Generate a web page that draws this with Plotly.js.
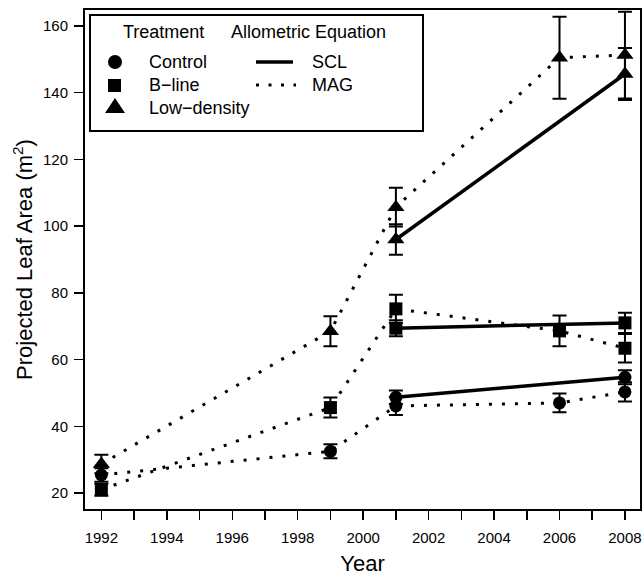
<!DOCTYPE html>
<html>
<head>
<meta charset="utf-8">
<script src="https://cdn.plot.ly/plotly-3.0.1.min.js"></script>
<style>html,body{margin:0;padding:0;background:#fff;}#chart{width:642px;height:576px;}</style>
</head>
<body>
<div id="chart"></div>
<script>
// ---- data ----
const yearsMAG = [1992, 1999, 2001, 2006, 2008];
const controlMAG = [25.4, 32.5, 46.1, 47.0, 50.3];
const controlMAGErr = [2.0, 2.1, 2.7, 2.8, 2.9];
const blineMAG = [21.0, 45.6, 75.2, 68.6, 63.4];
const blineMAGErr = [1.8, 3.0, 4.2, 4.6, 4.3];
const lowMAG = [28.7, 68.5, 105.7, 150.5, 151.3];
const lowMAGErr = [2.8, 4.5, 5.8, 12.3, 13.0];

const yearsSCL = [2001, 2008];
const controlSCL = [48.7, 54.7];
const controlSCLErr = [2.0, 2.1];
const blineSCL = [69.4, 71.0];
const blineSCLErr = [2.4, 3.0];
const lowSCL = [96.0, 145.6];
const lowSCLErr = [4.6, 7.8];

const xTickVals = [1992, 1994, 1996, 1998, 2000, 2002, 2004, 2006, 2008];
const xTickText = ['1992', '1994', '1996', '1998', '2000', '2002', '2004', '2006', '2008'];
const yTickVals = [20, 40, 60, 80, 100, 120, 140, 160];

const treatments = ['Control', 'B\u2212line', 'Low\u2212density'];
const equations = ['SCL', 'MAG'];

// ---- styling ----
const FONT = 'Liberation Sans, Arial, Helvetica, sans-serif';
const W = 642, H = 576;
const M = {l: 85, r: 2, t: 10, b: 67};
const PW = W - M.l - M.r, PH = H - M.t - M.b;
const fx = px => (px - M.l) / PW;
const fy = py => (H - M.b - py) / PH;

const DOT = '3px,10px';
function trace(x, y, err, symbol, size, dash, width) {
  return {
    x: x, y: y, type: 'scatter', mode: 'lines+markers',
    line: {color: 'black', width: width, dash: dash},
    marker: {symbol: symbol, size: size, color: 'black'},
    error_y: {type: 'data', array: err, visible: true, color: 'black', thickness: 2, width: 7},
    showlegend: false, hoverinfo: 'skip', cliponaxis: false
  };
}

const data = [
  trace(yearsMAG, controlMAG, controlMAGErr, 'circle', 13, DOT, 3),
  trace(yearsMAG, blineMAG, blineMAGErr, 'square', 13, DOT, 3),
  trace(yearsMAG, lowMAG, lowMAGErr, 'triangle-up', 15, DOT, 3),
  trace(yearsSCL, controlSCL, controlSCLErr, 'circle', 13, 'solid', 3.5),
  trace(yearsSCL, blineSCL, blineSCLErr, 'square', 13, 'solid', 3.5),
  trace(yearsSCL, lowSCL, lowSCLErr, 'triangle-up', 15, 'solid', 3.5)
];

// ---- hand-made legend (two columns with headers) ----
const shapes = [
  {type: 'rect', xref: 'paper', yref: 'paper', x0: fx(90), x1: fx(423), y0: fy(131), y1: fy(15),
   line: {color: 'black', width: 2}, fillcolor: 'white', layer: 'above'},
  {type: 'circle', xref: 'paper', yref: 'paper', x0: fx(108), x1: fx(122), y0: fy(69), y1: fy(55),
   line: {width: 0}, fillcolor: 'black', layer: 'above'},
  {type: 'rect', xref: 'paper', yref: 'paper', x0: fx(108), x1: fx(121), y0: fy(92), y1: fy(79),
   line: {width: 0}, fillcolor: 'black', layer: 'above'},
  {type: 'path', xref: 'paper', yref: 'paper',
   path: 'M ' + fx(105) + ' ' + fy(113) + ' L ' + fx(125) + ' ' + fy(113) + ' L ' + fx(115) + ' ' + fy(98) + ' Z',
   line: {width: 0}, fillcolor: 'black', layer: 'above'},
  {type: 'line', xref: 'paper', yref: 'paper', x0: fx(256), x1: fx(293), y0: fy(62), y1: fy(62),
   line: {color: 'black', width: 3.5}, layer: 'above'},
  {type: 'line', xref: 'paper', yref: 'paper', x0: fx(256), x1: fx(296), y0: fy(85), y1: fy(85),
   line: {color: 'black', width: 3, dash: '3px,9.5px'}, layer: 'above'}
];

function txt(s, px, py) {
  return {text: s, xref: 'paper', yref: 'paper', x: fx(px), y: fy(py), xanchor: 'left', yanchor: 'middle',
          showarrow: false, font: {family: FONT, size: 18, color: 'black'}};
}
const annotations = [
  txt('Treatment', 121, 32),
  txt('Allometric Equation', 229, 32),
  txt(treatments[0], 147, 62),
  txt(treatments[1], 147, 85),
  txt(treatments[2], 147, 108),
  txt(equations[0], 310, 62),
  txt(equations[1], 310, 85)
];

const layout = {
  width: W, height: H,
  margin: M,
  paper_bgcolor: 'white', plot_bgcolor: 'white',
  font: {family: FONT, color: 'black', size: 15},
  showlegend: false,
  xaxis: {
    range: [1991.5, 2008.46], tickmode: 'array', tickvals: xTickVals, ticktext: xTickText,
    ticks: 'outside', ticklen: 9, tickwidth: 1.5, tickcolor: 'black',
    minor: {tickmode: 'linear', tick0: 1991, dtick: 1, ticks: 'outside', ticklen: 9, tickwidth: 1.5, tickcolor: 'black', showgrid: false},
    showline: true, mirror: true, linewidth: 2, linecolor: 'black',
    showgrid: false, zeroline: false, ticklabelstandoff: 5,
    tickfont: {family: FONT, size: 15, color: 'black'},
    title: {text: 'Year', font: {family: FONT, size: 22, color: 'black'}, standoff: 14}
  },
  yaxis: {
    range: [15.2, 164.8], tickmode: 'array', tickvals: yTickVals,
    ticks: 'outside', ticklen: 9, tickwidth: 1.5, tickcolor: 'black',
    showline: true, mirror: true, linewidth: 2, linecolor: 'black',
    showgrid: false, zeroline: false, ticklabelstandoff: 3,
    tickfont: {family: FONT, size: 15, color: 'black'},
    title: {text: 'Projected Leaf Area (m<sup>2</sup>)', font: {family: FONT, size: 22, color: 'black'}, standoff: 4}
  },
  shapes: shapes,
  annotations: annotations
};

Plotly.newPlot('chart', data, layout, {staticPlot: true, displayModeBar: false});
</script>
</body>
</html>
